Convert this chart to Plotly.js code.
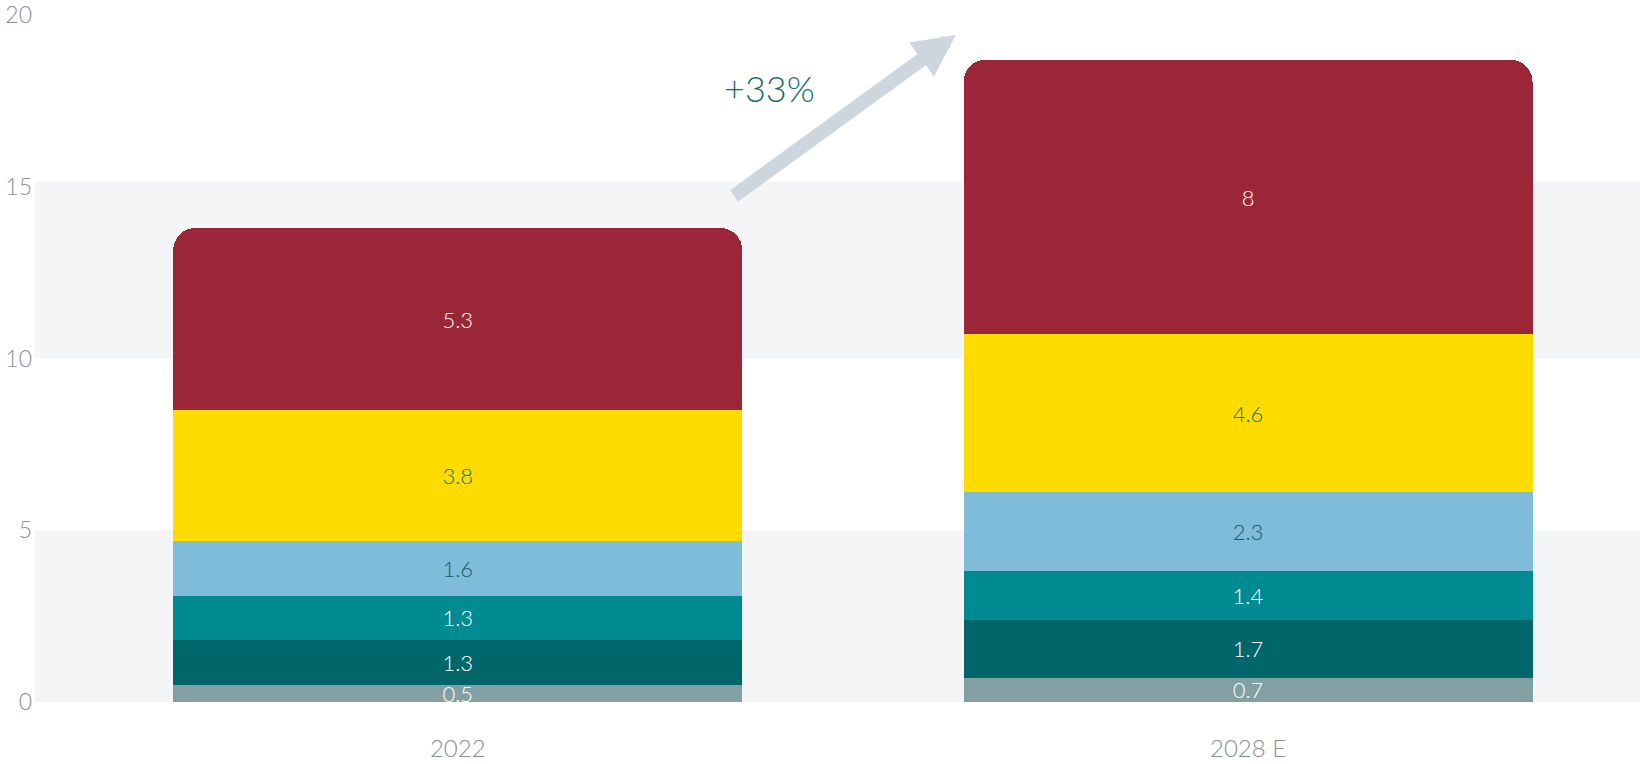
<!DOCTYPE html>
<html>
<head>
<meta charset="utf-8">
<script src="https://cdn.plot.ly/plotly-3.0.1.min.js"></script>
<style>
  html, body { margin: 0; padding: 0; background: #fff; }
  #chart { width: 1640px; height: 764px; }
</style>
</head>
<body>
<div id="chart"></div>
<script>
// categories and stacked segment values (bottom to top)
const years = ["2022", "2028 E"];
const seg1 = [0.5, 0.7];
const seg2 = [1.3, 1.7];
const seg3 = [1.3, 1.4];
const seg4 = [1.6, 2.3];
const seg5 = [3.8, 4.6];
const seg6 = [5.3, 8];
const yTicks = [0, 5, 10, 15, 20];
const growthLabel = "+33%";

const FONT = "Lato, 'Open Sans', sans-serif";

function layer(name, vals, color, textColor) {
    return {
        type: "bar",
        name: name,
        x: years,
        y: vals,
        marker: { color: color, line: { width: 0 } },
        text: vals.map(String),
        textposition: "inside",
        insidetextanchor: "middle",
        constraintext: "none",
        textangle: 0,
        textfont: { family: FONT, size: 22, weight: 300, color: textColor },
        hoverinfo: "x+y",
        width: 0.72,
    };
}

const traces = [
    layer("Segment 1", seg1, "#82a0a4", "#ffffff"),
    layer("Segment 2", seg2, "#00666a", "#ffffff"),
    layer("Segment 3", seg3, "#008b92", "#ffffff"),
    layer("Segment 4", seg4, "#7fbcd9", "#0f5f66"),
    layer("Segment 5", seg5, "#ffdc00", "#1a6e74"),
    layer("Segment 6", seg6, "#9b2638", "#ffffff"),
];

// light background bands behind the bars
const bands = [[0, 5], [10, 15.15]].map(([a, b]) => ({
    type: "rect",
    xref: "paper",
    yref: "y",
    x0: 0,
    x1: 1,
    y0: a,
    y1: b,
    fillcolor: "#f4f5f7",
    line: { width: 0 },
    layer: "below",
}));

const layout = {
    width: 1640,
    height: 764,
    margin: { l: 35, r: 0, t: 15, b: 62 },
    paper_bgcolor: "#ffffff",
    plot_bgcolor: "rgba(0,0,0,0)",
    barmode: "stack",
    barcornerradius: 22,
    showlegend: false,
    font: { family: FONT, color: "#8a8e9b" },
    xaxis: {
        type: "category",
        range: [-0.535, 1.496],
        showgrid: false,
        zeroline: false,
        showline: false,
        ticks: "",
        ticklabelstandoff: 30,
        tickfont: { family: FONT, size: 24, weight: 300, color: "#8a8e9b" },
    },
    yaxis: {
        range: [0, 20],
        tickvals: yTicks,
        showgrid: false,
        zeroline: false,
        showline: false,
        ticks: "",
        ticklabelstandoff: 2,
        tickfont: { family: FONT, size: 23, weight: 300, color: "#8a8e9b" },
    },
    shapes: bands,
    annotations: [
        {
            xref: "x",
            yref: "y",
            x: 0.63,
            y: 19.42,
            ax: -223,
            ay: 162,
            text: "",
            showarrow: true,
            arrowhead: 2,
            arrowsize: 0.6,
            arrowwidth: 14,
            arrowcolor: "#cdd5de",
        },
        {
            xref: "x",
            yref: "y",
            x: 0.395,
            y: 17.87,
            text: growthLabel,
            showarrow: false,
            font: { family: FONT, size: 36, weight: 300, color: "#1a6b6e" },
        },
    ],
};

Plotly.newPlot("chart", traces, layout, { displayModeBar: false, responsive: false });
</script>
</body>
</html>
